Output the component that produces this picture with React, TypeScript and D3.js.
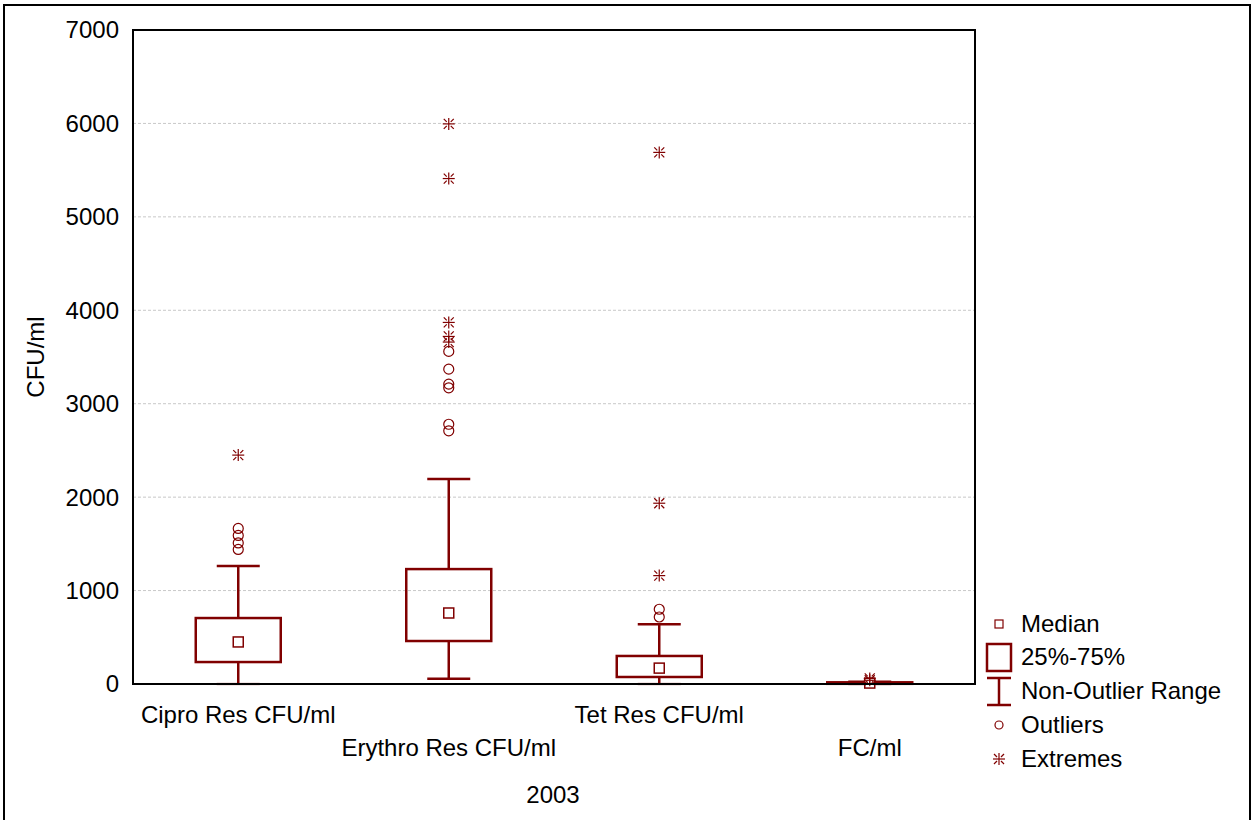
import * as d3 from "d3";
import React from "react";

// data
const categories = ["Cipro Res CFU/ml", "Erythro Res CFU/ml", "Tet Res CFU/ml", "FC/ml"];
const medians = [450, 760, 170, 10];
const q1 = [235, 460, 75, 2];
const q3 = [706, 1230, 300, 18];
const whiskerLow = [0, 55, 0, 0];
const whiskerHigh = [1263, 2195, 640, 25];
const outliers = [
  [1440, 1510, 1590, 1665],
  [2710, 2780, 3170, 3210, 3370, 3560],
  [717, 800],
  [],
];
const extremes = [
  [2450],
  [3660, 3720, 3870, 5410, 5995],
  [1160, 1935, 5690],
  [40, 60],
];
const yTicks = [0, 1000, 2000, 3000, 4000, 5000, 6000, 7000];
const legendItems = ["Median", "25%-75%", "Non-Outlier Range", "Outliers", "Extremes"];

const W = 1253;
const H = 820;
const margin = { left: 133, right: 278, top: 30, bottom: 136 };
const red = "#800000";
const font = "Liberation Sans, Arial, sans-serif";
const fs = 24;

const Star = ({ x, y }: { x: number; y: number }) => (
  <g stroke={red} strokeWidth={1.2}>
    <line x1={x} y1={y - 6} x2={x} y2={y + 6} />
    <line x1={x - 6} y1={y} x2={x + 6} y2={y} />
    <line x1={x - 5} y1={y - 5} x2={x - 2} y2={y - 2} />
    <line x1={x + 5} y1={y - 5} x2={x + 2} y2={y - 2} />
    <line x1={x - 5} y1={y + 5} x2={x - 2} y2={y + 2} />
    <line x1={x + 5} y1={y + 5} x2={x + 2} y2={y + 2} />
  </g>
);

export default function App() {
  const x = d3
    .scaleBand<string>()
    .domain(categories)
    .range([margin.left, W - margin.right]);
  const y = d3
    .scaleLinear()
    .domain([0, 7000])
    .range([H - margin.bottom, margin.top]);

  const boxW = 85;
  const capW = 43;
  const x0 = margin.left;
  const x1 = W - margin.right;
  const yBottom = y(0);

  const legendX = 999;
  const legendY = [624, 657, 691, 725, 759];

  return (
    <svg
      width={W}
      height={H}
      style={{ position: "absolute", left: 0, top: 0, background: "#fff" }}
      fontFamily={font}
    >
      <rect x={4} y={5} width={1246} height={830} fill="none" stroke="#000" strokeWidth={2} />

      {/* grid */}
      {yTicks
        .filter((t) => t > 0 && t < 7000)
        .map((t) => (
          <line
            key={t}
            x1={x0}
            x2={x1}
            y1={y(t)}
            y2={y(t)}
            stroke="#c8c8c8"
            strokeDasharray="3,2"
          />
        ))}

      {/* y ticks */}
      {yTicks.map((t) => (
        <text key={t} x={119} y={y(t)} dy="0.35em" textAnchor="end" fontSize={fs}>
          {t}
        </text>
      ))}

      {/* boxes */}
      {categories.map((c, i) => {
        const cx = (x(c) as number) + x.bandwidth() / 2;
        return (
          <g key={c}>
            <line x1={cx} x2={cx} y1={y(whiskerHigh[i])} y2={y(q3[i])} stroke={red} strokeWidth={2.5} />
            <line x1={cx} x2={cx} y1={y(q1[i])} y2={y(whiskerLow[i])} stroke={red} strokeWidth={2.5} />
            <line
              x1={cx - capW / 2}
              x2={cx + capW / 2}
              y1={y(whiskerHigh[i])}
              y2={y(whiskerHigh[i])}
              stroke={red}
              strokeWidth={2.5}
            />
            <line
              x1={cx - capW / 2}
              x2={cx + capW / 2}
              y1={y(whiskerLow[i])}
              y2={y(whiskerLow[i])}
              stroke={red}
              strokeWidth={2.5}
              opacity={whiskerLow[i] === 0 ? 0.4 : 1}
            />
            <rect
              x={cx - boxW / 2}
              y={y(q3[i])}
              width={boxW}
              height={Math.max(y(q1[i]) - y(q3[i]), 1)}
              fill="none"
              stroke={red}
              strokeWidth={2.5}
            />
            <rect
              x={cx - 5}
              y={y(medians[i]) - 5}
              width={10}
              height={10}
              fill="#fff"
              stroke={red}
              strokeWidth={1.5}
            />
            {outliers[i].map((v, j) => (
              <circle key={j} cx={cx} cy={y(v)} r={5} fill="none" stroke={red} strokeWidth={1.2} />
            ))}
            {extremes[i].map((v, j) => (
              <Star key={j} x={cx} y={y(v)} />
            ))}
          </g>
        );
      })}

      {/* plot frame */}
      <rect
        x={x0}
        y={margin.top}
        width={x1 - x0}
        height={yBottom - margin.top}
        fill="none"
        stroke="#000"
        strokeWidth={2}
      />

      {/* x labels */}
      {categories.map((c, i) => (
        <text
          key={c}
          x={(x(c) as number) + x.bandwidth() / 2}
          y={i % 2 === 0 ? 723 : 756}
          textAnchor="middle"
          fontSize={fs}
        >
          {c}
        </text>
      ))}

      <text x={553} y={803} textAnchor="middle" fontSize={fs}>
        2003
      </text>
      <text
        transform={`translate(44,${(margin.top + yBottom) / 2}) rotate(-90)`}
        textAnchor="middle"
        fontSize={fs}
      >
        CFU/ml
      </text>

      {/* legend */}
      <g>
        <rect x={legendX - 4} y={legendY[0] - 4} width={8} height={8} fill="#fff" stroke={red} strokeWidth={1.2} />
        <rect x={legendX - 12} y={legendY[1] - 13} width={24} height={27} fill="none" stroke={red} strokeWidth={2.5} />
        <line x1={legendX - 12} x2={legendX + 12} y1={legendY[2] - 13} y2={legendY[2] - 13} stroke={red} strokeWidth={2.5} />
        <line x1={legendX - 12} x2={legendX + 12} y1={legendY[2] + 14} y2={legendY[2] + 14} stroke={red} strokeWidth={2.5} />
        <line x1={legendX} x2={legendX} y1={legendY[2] - 13} y2={legendY[2] + 14} stroke={red} strokeWidth={2.5} />
        <circle cx={legendX} cy={legendY[3]} r={4} fill="none" stroke={red} strokeWidth={1.2} />
        <Star x={legendX} y={legendY[4]} />
        {legendItems.map((t, i) => (
          <text key={t} x={1021} y={legendY[i]} dy="0.35em" fontSize={fs}>
            {t}
          </text>
        ))}
      </g>
    </svg>
  );
}
